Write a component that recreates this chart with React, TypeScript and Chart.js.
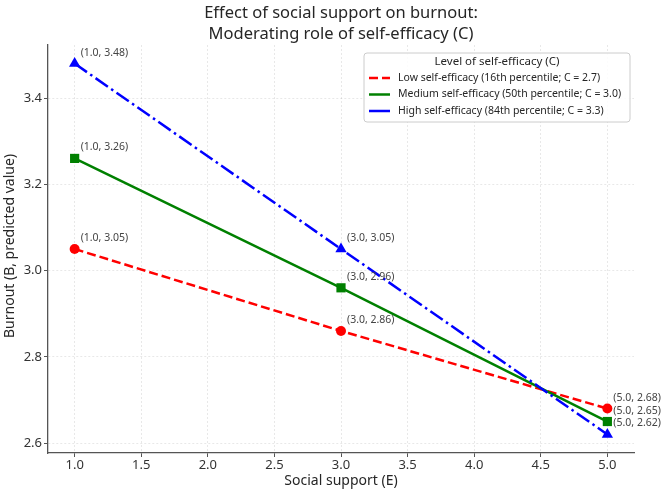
import { useEffect, useRef } from 'react';
import { Chart, registerables } from 'chart.js';

Chart.register(...registerables);

// Predicted burnout (B) at three levels of social support (E)
const socialSupport = [1.0, 3.0, 5.0];
const lowBurnout = [3.05, 2.86, 2.68];
const mediumBurnout = [3.26, 2.96, 2.65];
const highBurnout = [3.48, 3.05, 2.62];

const seriesLabels = [
  'Low self-efficacy (16th percentile; C = 2.7)',
  'Medium self-efficacy (50th percentile; C = 3.0)',
  'High self-efficacy (84th percentile; C = 3.3)',
];
const legendTitle = 'Level of self-efficacy (C)';
const titleLines = ['Effect of social support on burnout:', 'Moderating role of self-efficacy (C)'];
const xTitle = 'Social support (E)';
const yTitle = 'Burnout (B, predicted value)';

const xTicks = [1.0, 1.5, 2.0, 2.5, 3.0, 3.5, 4.0, 4.5, 5.0];
const yTicks = [2.6, 2.8, 3.0, 3.2, 3.4];
const xRange = [0.8, 5.2];
const yRange = [2.577, 3.523];

const FONT = '"Noto Sans", "DejaVu Sans", sans-serif';
const RED = '#ff0000';
const GREEN = '#008000';
const BLUE = '#0000ff';
const DASHED = [9, 4];
const DASH_DOT = [15, 4, 2.5, 4];

const toPoints = (ys: number[]) => socialSupport.map((x, i) => ({ x, y: ys[i] }));

// Title, axis titles, point annotations and the legend box
const decorations = {
  id: 'decorations',
  afterDatasetsDraw(chart: any) {
    const { ctx } = chart;
    ctx.save();
    ctx.font = `10.5px ${FONT}`;
    ctx.fillStyle = '#444';
    ctx.textAlign = 'left';
    ctx.textBaseline = 'middle';
    chart.data.datasets.forEach((ds: any, di: number) => {
      const meta = chart.getDatasetMeta(di);
      meta.data.forEach((el: any, i: number) => {
        const p = ds.data[i];
        ctx.fillText(`(${p.x.toFixed(1)}, ${p.y.toFixed(2)})`, el.x + 6, el.y - 11);
      });
    });
    ctx.restore();
  },
  afterDraw(chart: any) {
    const { ctx, chartArea } = chart;
    const cx = (chartArea.left + chartArea.right) / 2;
    const cy = (chartArea.top + chartArea.bottom) / 2;
    ctx.save();
    ctx.fillStyle = '#262626';
    ctx.textAlign = 'center';
    ctx.textBaseline = 'middle';
    ctx.font = `16.5px ${FONT}`;
    ctx.fillText(titleLines[0], cx, 13.5);
    ctx.fillText(titleLines[1], cx, 34.5);

    ctx.font = `14px ${FONT}`;
    ctx.fillText(xTitle, cx, 481);
    ctx.save();
    ctx.translate(10, cy - 3);
    ctx.rotate(-Math.PI / 2);
    ctx.fillText(yTitle, 0, 0);
    ctx.restore();

    // legend
    const bx = 364, by = 53, bw = 266, bh = 69;
    ctx.beginPath();
    ctx.roundRect(bx, by, bw, bh, 3);
    ctx.fillStyle = 'rgba(255,255,255,0.85)';
    ctx.fill();
    ctx.strokeStyle = '#cccccc';
    ctx.lineWidth = 1;
    ctx.stroke();

    ctx.fillStyle = '#262626';
    ctx.font = `11.5px ${FONT}`;
    ctx.fillText(legendTitle, bx + bw / 2, 62);

    const styles = [
      { color: RED, dash: DASHED },
      { color: GREEN, dash: [] },
      { color: BLUE, dash: [] },
    ];
    const rowsY = [78, 94.5, 111];
    ctx.font = `10.5px ${FONT}`;
    ctx.textAlign = 'left';
    seriesLabels.forEach((label, i) => {
      ctx.beginPath();
      ctx.setLineDash(styles[i].dash);
      ctx.strokeStyle = styles[i].color;
      ctx.lineWidth = 2.5;
      ctx.moveTo(369, rowsY[i]);
      ctx.lineTo(390, rowsY[i]);
      ctx.stroke();
      ctx.setLineDash([]);
      ctx.fillStyle = '#262626';
      ctx.fillText(label, 398, rowsY[i]);
    });
    ctx.restore();
  },
};

export default function App() {
  const canvasRef = useRef<HTMLCanvasElement | null>(null);

  useEffect(() => {
    const canvas = canvasRef.current;
    if (!canvas) return;

    const gridStyle = {
      color: 'rgba(0,0,0,0.09)',
      lineWidth: 1,
      tickLength: 4,
      tickColor: '#555',
      tickWidth: 1,
      tickBorderDash: [],
    };
    const borderStyle = { display: true, color: '#555', width: 1.3, dash: [2, 2] };

    const chart = new Chart(canvas, {
      type: 'line',
      data: {
        datasets: [
          {
            label: seriesLabels[0],
            data: toPoints(lowBurnout),
            borderColor: RED,
            backgroundColor: RED,
            borderWidth: 2.5,
            borderDash: DASHED,
            pointStyle: 'circle',
            pointRadius: 5,
            pointBorderWidth: 0,
            order: 3,
          },
          {
            label: seriesLabels[1],
            data: toPoints(mediumBurnout),
            borderColor: GREEN,
            backgroundColor: GREEN,
            borderWidth: 2.5,
            pointStyle: 'rect',
            pointRadius: 6.5,
            pointBorderWidth: 0,
            order: 2,
          },
          {
            label: seriesLabels[2],
            data: toPoints(highBurnout),
            borderColor: BLUE,
            backgroundColor: BLUE,
            borderWidth: 2.5,
            borderDash: DASH_DOT,
            pointStyle: 'triangle',
            pointRadius: 6.5,
            pointBorderWidth: 0,
            order: 1,
          },
        ],
      },
      options: {
        animation: false,
        responsive: true,
        maintainAspectRatio: false,
        devicePixelRatio: 1,
        layout: { padding: { top: 45, right: 28, left: 0, bottom: 0 } },
        plugins: {
          legend: { display: false },
          title: { display: false },
          tooltip: { enabled: false },
        },
        scales: {
          x: {
            type: 'linear',
            min: xRange[0],
            max: xRange[1],
            afterBuildTicks: (scale: any) => {
              scale.ticks = xTicks.map((value) => ({ value }));
            },
            afterFit: (scale: any) => {
              scale.height = 43;
            },
            ticks: {
              autoSkip: false,
              maxRotation: 0,
              padding: 0,
              color: '#333',
              font: { family: FONT, size: 13 },
              callback: (v: any) => Number(v).toFixed(1),
            },
            grid: gridStyle,
            border: borderStyle,
          },
          y: {
            type: 'linear',
            min: yRange[0],
            max: yRange[1],
            afterBuildTicks: (scale: any) => {
              scale.ticks = yTicks.map((value) => ({ value }));
            },
            afterFit: (scale: any) => {
              scale.width = 48;
            },
            ticks: {
              autoSkip: false,
              padding: 2,
              color: '#333',
              font: { family: FONT, size: 13 },
              callback: (v: any) => Number(v).toFixed(1),
            },
            grid: gridStyle,
            border: borderStyle,
          },
        },
      },
      plugins: [decorations],
    });

    return () => chart.destroy();
  }, []);

  return (
    <div style={{ position: 'absolute', left: 0, top: 0, width: 662, height: 496, background: '#fff' }}>
      <canvas ref={canvasRef} />
    </div>
  );
}
